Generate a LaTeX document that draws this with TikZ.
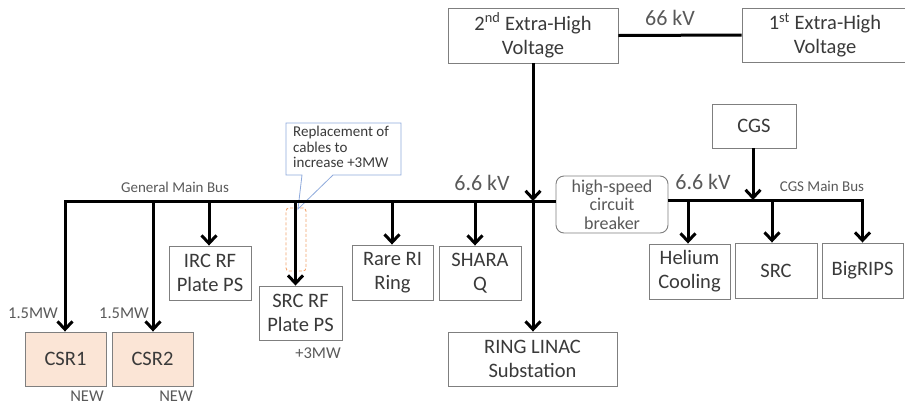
\documentclass[tikz,border=0pt]{standalone}
\usepackage{fontspec}
\setmainfont{Carlito}
\usetikzlibrary{arrows.meta}
\definecolor{boxline}{HTML}{7F7F7F}
\definecolor{txt}{HTML}{3A3A3A}
\definecolor{lblc}{HTML}{595959}
\definecolor{csrfill}{HTML}{FBE5D6}
\definecolor{calloutline}{HTML}{8FAADC}
\definecolor{orangeline}{HTML}{F2A46E}
\begin{document}
\begin{tikzpicture}[x=1pt,y=-1pt,
  box/.style={draw=boxline, line width=0.9pt, fill=white, text=txt, align=center, inner sep=0pt, font=\fontsize{20.5}{24}\selectfont},
  newbox/.style={box, fill=csrfill},
  busline/.style={line width=3pt, line join=miter},
  arr/.style={line width=3pt, line join=miter, -{Straight Barb[length=8pt,width=15pt]}},
  lbl/.style={text=lblc, inner sep=0pt},
  biglbl/.style={lbl, font=\fontsize{22}{26}\selectfont},
  smalllbl/.style={lbl, font=\fontsize{15}{18}\selectfont},
  mwlbl/.style={lbl, font=\fontsize{16.5}{19}\selectfont}]
\useasboundingbox (0,0) rectangle (905,405);

% boxes
\node[box, minimum width=170pt, minimum height=55pt] (ehv2) at (533,35.5) {2\textsuperscript{nd} Extra-High\\Voltage};
\node[box, minimum width=166pt, minimum height=54pt] (ehv1) at (825,35) {1\textsuperscript{st} Extra-High\\Voltage};
\node[box, minimum width=84pt, minimum height=44pt] (cgs) at (754,126) {CGS};
\node[box, rounded corners=8pt, text=lblc, font=\fontsize{18}{18.5}\selectfont, minimum width=112pt, minimum height=57pt] (breaker) at (612,204.5) {high-speed\\circuit\\breaker};
\node[box, minimum width=81pt, minimum height=55pt] (helium) at (689.5,271.5) {Helium\\Cooling};
\node[box, minimum width=82pt, minimum height=55pt] (src) at (776,270.5) {SRC};
\node[box, minimum width=81pt, minimum height=55pt] (bigrips) at (862.5,270.5) {BigRIPS};
\node[box, minimum width=82pt, minimum height=54pt] (sharaq) at (480,273) {SHARA\\Q};
\node[box, minimum width=81pt, minimum height=55pt] (rareri) at (392.5,272.5) {Rare RI\\Ring};
\node[box, minimum width=82pt, minimum height=54pt] (irc) at (210,273) {IRC RF\\Plate PS};
\node[box, minimum width=83pt, minimum height=54pt] (srcrf) at (300.5,313) {SRC RF\\Plate PS};
\node[newbox, minimum width=81pt, minimum height=54pt] (csr1) at (65.5,359) {CSR1};
\node[newbox, minimum width=81pt, minimum height=54pt] (csr2) at (152.5,359) {CSR2};
\node[box, minimum width=169pt, minimum height=54pt] (linac) at (532.5,359) {RING LINAC\\Substation};

% highlight and callout (behind the lines)
\node[draw=orangeline, dash pattern=on 3pt off 2pt, rounded corners=3pt, line width=0.9pt, inner sep=0pt, minimum width=20pt, minimum height=63pt] (hl) at (296,239.5) {};
\draw[draw=calloutline, fill=white, line width=0.8pt] (286,123) -- (401,123) -- (401,175) -- (333,175) -- (298,209) -- (302,175) -- (286,175) -- cycle;
\node[anchor=north west, align=left, inner sep=0pt, text=txt, font=\fontsize{15}{15.5}\selectfont] (callout) at (293,126) {Replacement of\\cables to\\increase +3MW};

% bus taps
\coordinate (busL) at (65,201);
\coordinate (busR) at (862.5,200);
\coordinate (tcsr2) at (153,201);
\coordinate (tirc) at (209,201);
\coordinate (tsrcrf) at (295.5,201);
\coordinate (trare) at (392,201);
\coordinate (tshara) at (475,201);
\coordinate (tlinac) at (533,201);
\coordinate (thel) at (688,200);
\coordinate (tsrc) at (772,200);
\coordinate (tcgs) at (753,200);

% 66 kV line
\draw[busline] (ehv2.east) -- (ehv1.west);

% general main bus
\draw[arr] (busL -| breaker.west) -- (busL) -- (busL |- csr1.north);
\draw[arr] (tcsr2) -- (tcsr2 |- csr2.north);
\draw[arr] (tirc) -- (tirc |- irc.north);
\draw[arr] (tsrcrf) -- (tsrcrf |- srcrf.north);
\draw[arr] (trare) -- (trare |- rareri.north);
\draw[arr] (tshara) -- (tshara |- sharaq.north);
\draw[arr] (ehv2.south) -- (tlinac);
\draw[arr] (tlinac) -- (tlinac |- linac.north);

% CGS main bus
\draw[arr] (busR -| breaker.east) -- (busR) -- (busR |- bigrips.north);
\draw[arr] (thel) -- (thel |- helium.north);
\draw[arr] (tsrc) -- (tsrc |- src.north);
\draw[arr] (tcgs |- cgs.south) -- (tcgs);

% labels
\node[biglbl] (kv66) at (670,18) {66 kV};
\node[biglbl] (kvA) at (482,183) {6.6 kV};
\node[biglbl] (kvB) at (703,182) {6.6 kV};
\node[smalllbl] (gmb) at (175,187) {General Main Bus};
\node[smalllbl] (cgsmb) at (822,186) {CGS Main Bus};
\node[mwlbl] (mw1) at (33,313) {1.5MW};
\node[mwlbl] (mw2) at (124,313) {1.5MW};
\node[mwlbl] (new1) at (87,396) {NEW};
\node[mwlbl] (new2) at (176,396) {NEW};
\node[mwlbl] (mw3) at (318,353) {+3MW};
\end{tikzpicture}
\end{document}
